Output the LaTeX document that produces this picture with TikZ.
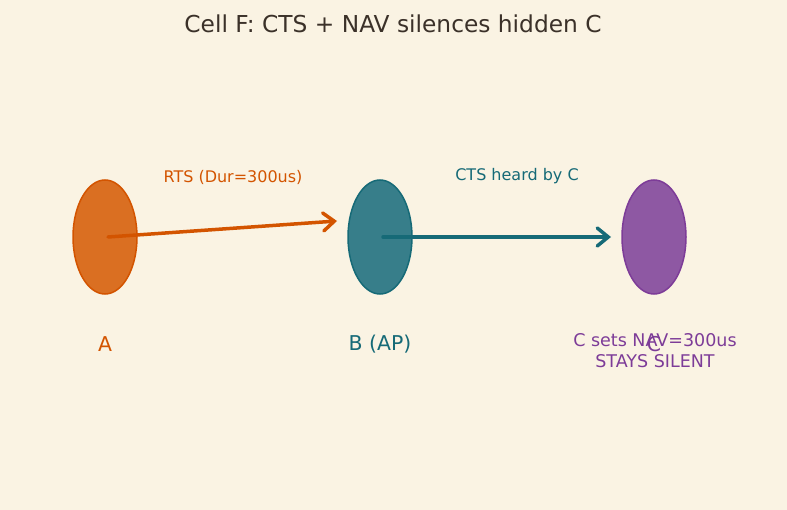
\documentclass[tikz,border=0pt]{standalone}
\usepackage{fontspec}
\setmainfont{DejaVu Sans}
\usetikzlibrary{shapes.geometric,arrows.meta}
\definecolor{bg}{HTML}{FAF3E3}
\definecolor{orfill}{HTML}{DA6F22}
\definecolor{oredge}{HTML}{D35400}
\definecolor{tlfill}{HTML}{377E8A}
\definecolor{tledge}{HTML}{166A77}
\definecolor{pufill}{HTML}{8E58A3}
\definecolor{puedge}{HTML}{7D3C98}
\definecolor{titlec}{HTML}{3B3129}
\tikzset{
  station/.style={ellipse, minimum width=64pt, minimum height=114pt, inner sep=0pt, line width=1.5pt},
  msg/.style={line width=3.5pt, -{Straight Barb[length=11pt,width=18pt,line cap=round]}, line cap=round},
  lbl/.style={font=\fontsize{16}{19}\selectfont},
  big/.style={font=\fontsize{20.4}{24}\selectfont},
}
\begin{document}
\begin{tikzpicture}[x=1pt,y=-1pt]
\fill[bg] (0,0) rectangle (787,510);
\useasboundingbox (0,0) rectangle (787,510);
\node[text=titlec, font=\fontsize{23.3}{27}\selectfont] (title) at (393,24) {Cell F: CTS + NAV silences hidden C};
\node[station, draw=oredge, fill=orfill] (A) at (105,237) {};
\node[station, draw=tledge, fill=tlfill] (B) at (380,237) {};
\node[station, draw=puedge, fill=pufill] (C) at (654,237) {};
\coordinate (aend) at (337,221);
\coordinate (bend) at (611,237);
\draw[msg, draw=oredge] ([xshift=3pt]A.center) -- (aend);
\draw[msg, draw=tledge] ([xshift=3pt]B.center) -- (bend);
\node[lbl, text=oredge] (rts) at (233,177) {RTS (Dur=300us)};
\node[lbl, text=tledge] (cts) at (517,176) {CTS heard by C};
\node[big, text=oredge] (la) at (105,344) {A};
\node[big, text=tledge] (lb) at (380,344) {B (AP)};
\node[big, text=puedge] (lc) at (654,344) {C};
\node[text=puedge, align=center, font=\fontsize{17.5}{21}\selectfont] (nav) at (655,351) {C sets NAV=300us\\STAYS SILENT};
\end{tikzpicture}
\end{document}
